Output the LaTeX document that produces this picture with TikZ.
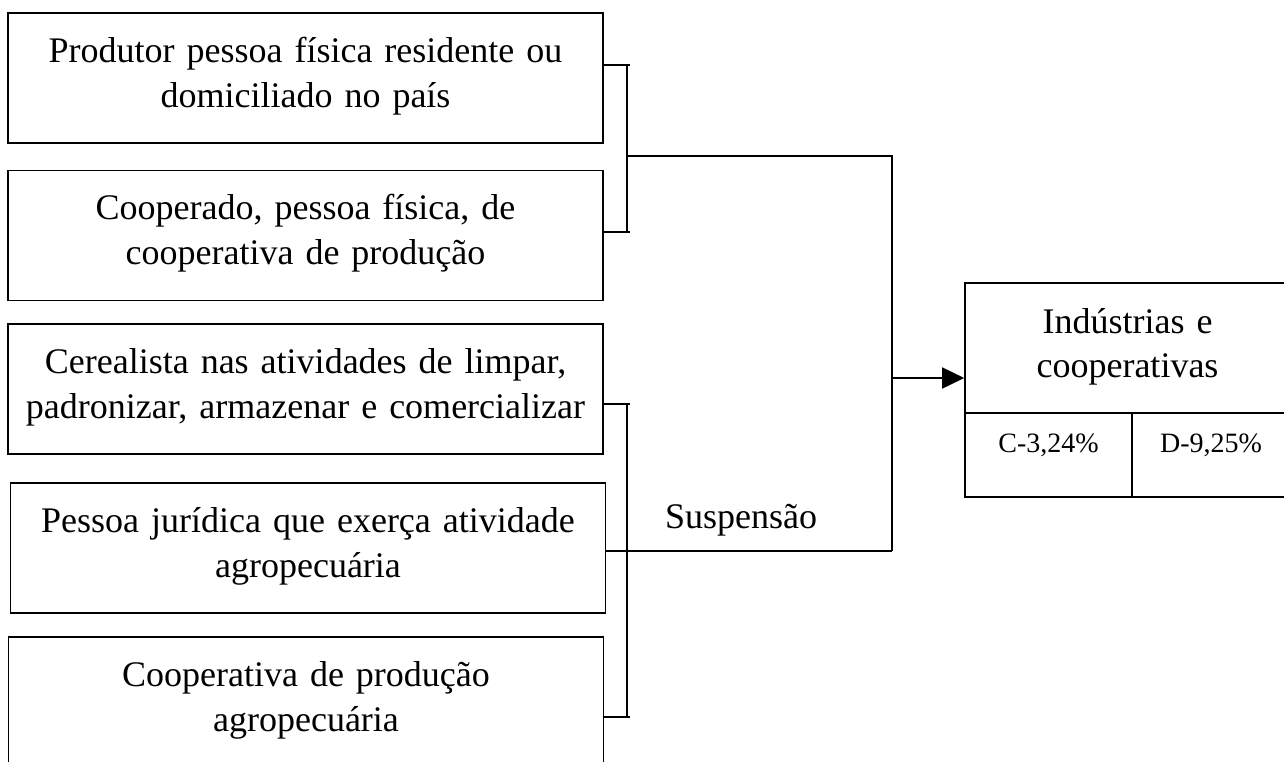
\documentclass[tikz,border=0pt]{standalone}
\usepackage{fontspec}
\setmainfont{Liberation Serif}
\usetikzlibrary{arrows.meta}
\begin{document}
\begin{tikzpicture}[x=1pt,y=-1pt,
  line width=1.6pt,
  bigfont/.style={font=\fontsize{36}{45}\selectfont},
  srcbox/.style={draw, line width=1.6pt, minimum width=595pt, minimum height=130pt,
    text width=590pt, align=center, inner sep=0pt, bigfont,
    text height=25pt, text depth=57pt},
  topbox/.style={draw, line width=1.6pt, minimum width=325pt, minimum height=130pt,
    text width=320pt, align=center, inner sep=0pt, font=\fontsize{36}{44}\selectfont,
    text height=25pt, text depth=55pt},
  cellbox/.style={draw, line width=1.6pt, minimum height=84pt, inner sep=0pt,
    font=\fontsize{28}{34}\selectfont, text height=20pt, text depth=26pt},
  conn/.style={line width=1.6pt},
  arr/.style={conn, -{Triangle[length=22pt,width=21pt]}}
]
\useasboundingbox (0,0) rectangle (1284,761);

% source boxes
\node[srcbox] (b1) at (305.5,78) {Produtor pessoa física residente ou\\domiciliado no país};
\node[srcbox] (b2) at (305.5,235.5) {Cooperado, pessoa física, de\\cooperativa de produção};
\node[srcbox] (b3) at (305.5,389) {Cerealista nas atividades de limpar,\\padronizar, armazenar e comercializar};
\node[srcbox] (b4) at (308,548) {Pessoa jurídica que exerça atividade\\agropecuária};
\node[srcbox] (b5) at (306,702) {Cooperativa de produção\\agropecuária};

% target box
\node[topbox] (top) at (1127.5,348) {Indústrias e\\cooperativas};
\node[cellbox, minimum width=167pt] (cc) at (1048.5,455) {C-3,24\%};
\node[cellbox, minimum width=158pt] (cd) at (1211,455) {D-9,25\%};

% label
\node[bigfont, anchor=base, inner sep=0pt] (susp) at (741,528) {Suspensão};

% junction coordinates
\coordinate (s1) at (630,65);
\coordinate (s2) at (630,232);
\coordinate (ja) at (627,156);
\coordinate (jr) at (892,156);
\coordinate (s3) at (630,404);
\coordinate (s5) at (630,717);
\coordinate (jb) at (892,551);
\coordinate (ar) at (892,378);

% upper bracket
\draw[conn] (b1.east |- s1) -- (s1);
\draw[conn] (b2.east |- s2) -- (s2);
\draw[conn] (ja |- s1) -- (ja |- s2);
\draw[conn] (ja) -- (jr) -- (jb);

% lower bracket
\draw[conn] (b3.east |- s3) -- (s3);
\draw[conn] (b5.east |- s5) -- (s5);
\draw[conn] (ja |- s3) -- (ja |- s5);
\draw[conn] (b4.east |- jb) -- (jb);

% arrow to target
\draw[arr] (ar) -- (ar -| top.west);
\end{tikzpicture}
\end{document}
